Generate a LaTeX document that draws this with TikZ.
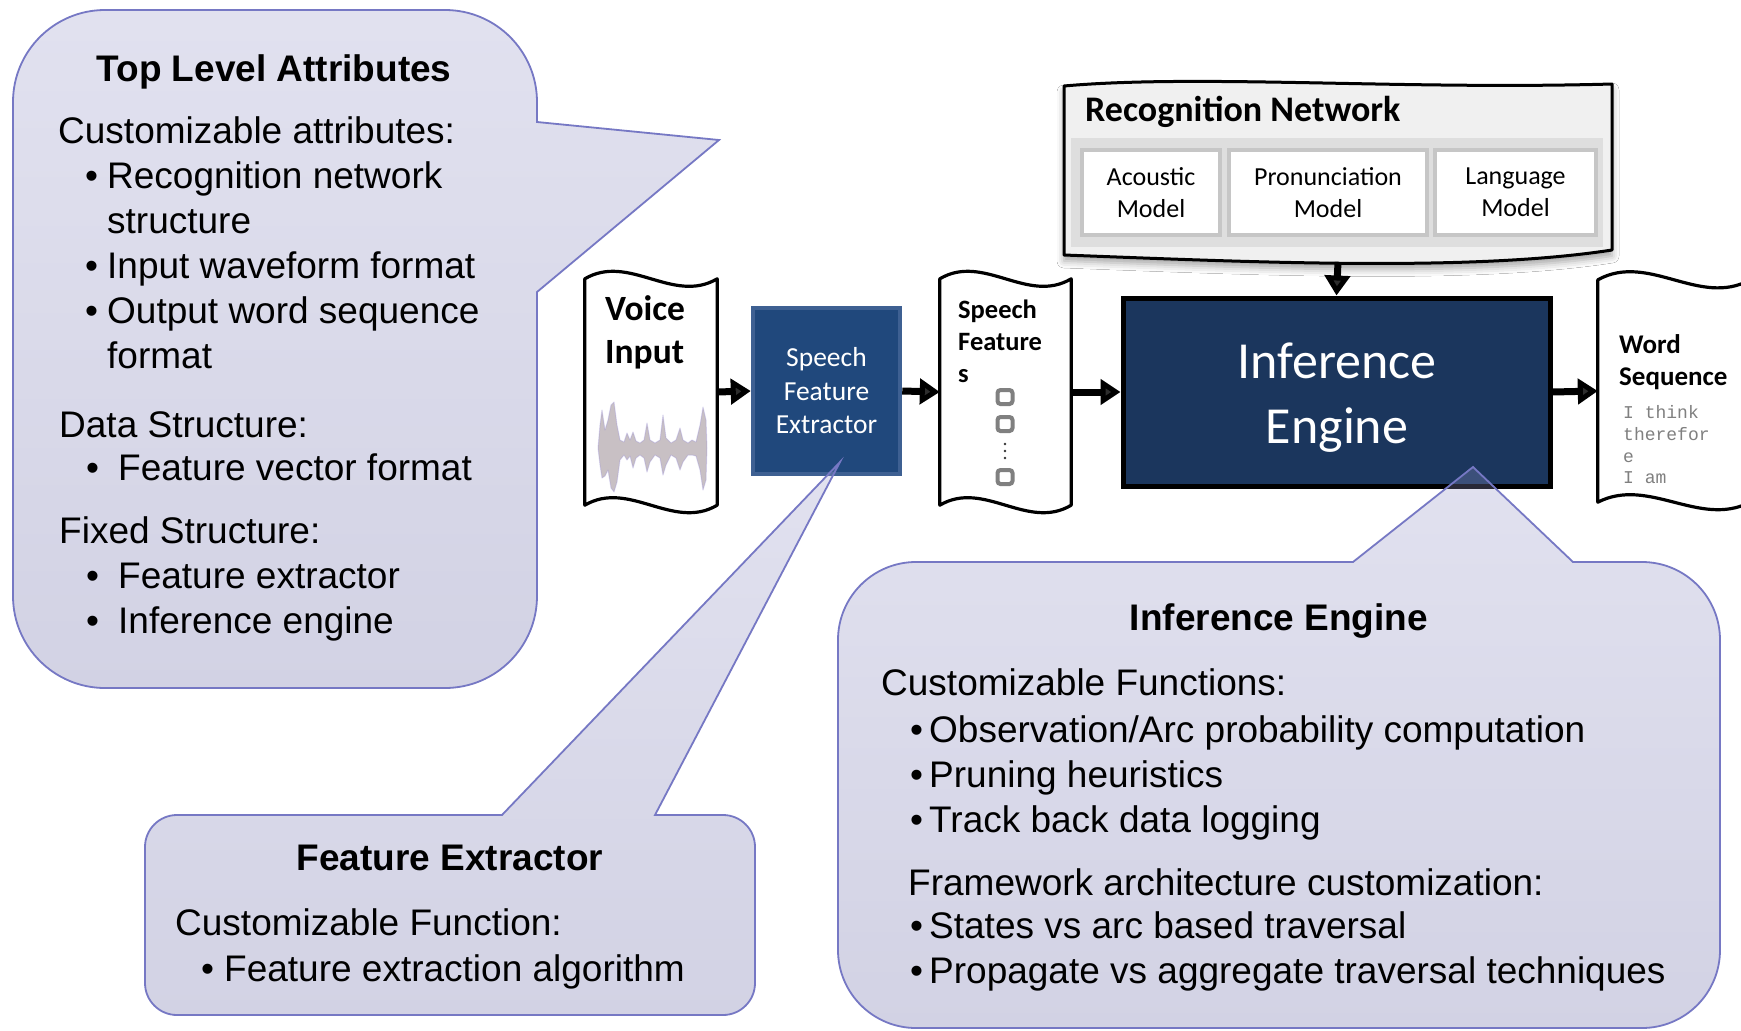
\documentclass[tikz,border=0pt]{standalone}
\usepackage{fontspec}
\setmainfont{Liberation Sans}
\newfontfamily\calibri{Carlito}
\newfontfamily\couriermono{Liberation Mono}
\usetikzlibrary{arrows.meta,calc,shadows.blur}

\definecolor{navy}{RGB}{27,54,93}
\definecolor{fexfill}{RGB}{32,72,124}
\definecolor{fexline}{RGB}{62,96,146}
\definecolor{callline}{RGB}{118,120,196}
\definecolor{calltop}{RGB}{150,150,200}
\definecolor{callbot}{RGB}{95,95,160}
\definecolor{netfill}{RGB}{240,240,240}
\definecolor{netpanel}{RGB}{222,222,222}
\definecolor{modline}{RGB}{198,198,198}
\definecolor{wave}{RGB}{200,192,196}
\definecolor{wavetint}{RGB}{150,140,220}
\definecolor{monogray}{RGB}{128,128,128}

\tikzset{
  frame/.style={rectangle, inner sep=0pt, draw=none},
  docline/.style={draw=black, line width=3.2pt, fill=white, line join=round},
  flow/.style={line width=7pt, -{Triangle[length=20pt,width=25pt]}},
  fexbox/.style={rectangle, inner sep=0pt, fill=fexfill, draw=fexline, line width=4.5pt,
    text=white, align=center, font=\calibri\fontsize{27.5}{33.5}\selectfont},
  iebox/.style={rectangle, inner sep=0pt, fill=navy, draw=black, line width=5pt},
  ietext/.style={inner sep=0pt, anchor=base, text=white, font=\calibri\fontsize{52}{65}\selectfont},
  modbox/.style={rectangle, inner sep=0pt, fill=white, draw=modline, line width=4pt,
    align=center, font=\calibri\fontsize{26}{32}\selectfont},
  doctitle/.style={inner sep=0pt, anchor=base west, font=\calibri\bfseries\fontsize{35.5}{43}\selectfont},
  docsmall/.style={inner sep=0pt, anchor=base west, font=\calibri\bfseries\fontsize{26.5}{32}\selectfont},
  monotext/.style={inner sep=0pt, anchor=base west, text=monogray, font=\couriermono\fontsize{18}{22}\selectfont},
  featsq/.style={rectangle, rounded corners=3pt, draw=gray, line width=4pt,
    minimum width=15pt, minimum height=14pt, inner sep=0pt},
  callout/.style={draw=callline, line width=1.8pt, top color=calltop, bottom color=callbot,
    fill opacity=0.28, draw opacity=1},
  body/.style={inner sep=0pt, anchor=base west, font=\fontsize{37}{44}\selectfont},
  head/.style={inner sep=0pt, anchor=base, font=\fontsize{37}{44}\selectfont\bfseries}
}

% wavy "document" outline around a frame node: #1 node, #2 top bend, #3 bottom bend
\newcommand\wavydoc[3]{%
  \path[docline] let \p1=(#1.north west), \p2=(#1.south east), \n1={(\x2-\x1)/3} in
    (\x1,\y1) .. controls ({\x1+\n1},{\y1+#2}) and ({\x2-\n1},{\y1-#2}) .. (\x2,\y1)
    -- (\x2,\y2) .. controls ({\x2-\n1},{\y2-#3}) and ({\x1+\n1},{\y2+#3}) .. (\x1,\y2) -- cycle;}

\begin{document}
\begin{tikzpicture}[x=1pt,y=-1pt]
\path[use as bounding box, fill=white] (0,0) rectangle (1741,1031);

% ---------------- recognition network ----------------
\coordinate (netport) at (1338,262);
\path[fill=netfill, draw=black, line width=3pt, line join=round,
      blur shadow={shadow xshift=0pt, shadow yshift=-6pt, shadow blur radius=7pt, shadow opacity=35}]
  (1064,86) .. controls (1200,74) and (1400,90) .. (1612,84)
  -- (1612,250) .. controls (1470,272) and (1250,262) .. (1064,255) -- cycle;
\fill[netpanel] (1071,138) rectangle (1603,247);
\node[inner sep=0pt, anchor=base west, font=\calibri\bfseries\fontsize{36}{43}\selectfont]
  (nettitle) at (1085,121) {Recognition Network};
\node[modbox, minimum width=138pt, minimum height=85pt] (am) at (1151,192.5) {Acoustic\\Model};
\node[modbox, minimum width=198pt, minimum height=85pt] (pm) at (1328,192.5) {Pronunciation\\Model};
\node[modbox, minimum width=161pt, minimum height=85pt] (lm) at (1515.5,192.5) {Language\\Model};

% ---------------- processing chain ----------------
\node[frame, minimum width=132pt, minimum height=226pt] (voice) at (651,392) {};
\node[frame, minimum width=131pt, minimum height=226pt] (sfeat) at (1005.5,392) {};
\node[frame, minimum width=152pt, minimum height=222pt] (word) at (1674,391) {};

\node[fexbox, minimum width=147pt, minimum height=166pt] (fex) at (826.5,391) {Speech\\Feature\\Extractor};
\node[iebox, minimum width=427pt, minimum height=188pt] (ie) at (1336.5,392) {};
\node[ietext] (iet1) at (1337,378) {Inference};
\node[ietext] (iet2) at (1337,443) {Engine};

\draw[flow] (voice.east) -- (fex.west);
\draw[flow] (fex.east) -- (sfeat.west);
\draw[flow] (sfeat.east) -- (ie.west);
\draw[flow] (ie.east) -- (word.west);
\draw[flow] (netport) -- (ie.north);

\wavydoc{voice}{26}{26}
\wavydoc{sfeat}{26}{26}
\wavydoc{word}{28}{26}

% voice input: title and waveform
\node[doctitle] (voicet1) at (605,320) {Voice};
\node[doctitle] (voicet2) at (605,363) {Input};
\path[fill=wave, draw=wavetint, draw opacity=0.3, line width=1pt, line join=round]
  (598,448) -- (600,425) -- (602,410) -- (605,430) -- (608,420) -- (611,405) -- (614,402)
  -- (617,425) -- (620,440) -- (624,442) -- (627,433) -- (630,440) -- (633,432) -- (636,441)
  -- (640,443) -- (644,440) -- (647,423) -- (650,440) -- (655,443) -- (660,440) -- (663,415)
  -- (666,438) -- (671,443) -- (676,440) -- (680,428) -- (683,440) -- (688,443) -- (692,440)
  -- (696,442) -- (700,425) -- (703,407) -- (706,420) -- (707,448)
  -- (706,480) -- (703,490) -- (700,470) -- (696,456) -- (692,455) -- (688,455) -- (683,462)
  -- (680,470) -- (676,458) -- (671,455) -- (666,465) -- (663,475) -- (660,458) -- (655,455)
  -- (650,462) -- (647,472) -- (644,458) -- (640,455) -- (636,458) -- (633,468) -- (630,456)
  -- (627,460) -- (624,455) -- (620,460) -- (617,482) -- (614,492) -- (611,488) -- (608,470)
  -- (605,476) -- (602,478) -- (600,465) -- cycle;

% speech features: title and feature vectors
\node[docsmall] (sft1) at (958,318) {Speech};
\node[docsmall] (sft2) at (958,350) {Feature};
\node[docsmall] (sft3) at (958,382) {s};
\node[featsq] (sq1) at (1005,397) {};
\node[featsq] (sq2) at (1005,424) {};
\node[featsq] (sq3) at (1005,477) {};
\fill[black!80] (1005,444) circle (1.4pt) (1005,451) circle (1.4pt) (1005,458) circle (1.4pt);

% word sequence: title and output text
\node[docsmall, font=\calibri\bfseries\fontsize{27}{32}\selectfont] (wst1) at (1619,353) {Word};
\node[docsmall, font=\calibri\bfseries\fontsize{27}{32}\selectfont] (wst2) at (1619,385) {Sequence};
\node[monotext] (wso1) at (1623,418) {I think};
\node[monotext] (wso2) at (1623,440) {therefor};
\node[monotext] (wso3) at (1623,462) {e};
\node[monotext] (wso4) at (1623,483) {I am};

% ---------------- callouts ----------------
% top level attributes
\path[callout]
  (13,102) .. controls (13,51.2) and (54.2,10) .. (105,10)
  -- (445,10) .. controls (495.8,10) and (537,51.2) .. (537,102)
  -- (537,122) -- (719,140) -- (537,292)
  -- (537,596) .. controls (537,646.8) and (495.8,688) .. (445,688)
  -- (105,688) .. controls (54.2,688) and (13,646.8) .. (13,596) -- cycle;
% feature extractor
\path[callout]
  (145,847) .. controls (145,829.3) and (159.3,815) .. (177,815)
  -- (502,815) -- (840,462) -- (655,815)
  -- (723,815) .. controls (740.7,815) and (755,829.3) .. (755,847)
  -- (755,983) .. controls (755,1000.7) and (740.7,1015) .. (723,1015)
  -- (177,1015) .. controls (159.3,1015) and (145,1000.7) .. (145,983) -- cycle;
% inference engine
\path[callout]
  (838,640) .. controls (838,596.9) and (872.9,562) .. (916,562)
  -- (1353,562) -- (1473,467) -- (1573,562)
  -- (1642,562) .. controls (1685.1,562) and (1720,596.9) .. (1720,640)
  -- (1720,950) .. controls (1720,993.1) and (1685.1,1028) .. (1642,1028)
  -- (916,1028) .. controls (872.9,1028) and (838,993.1) .. (838,950) -- cycle;

% top level attributes text
\node[head] (tlh) at (274,81) {Top Level Attributes};
\node[body] (tl1) at (58,143) {Customizable attributes:};
\node[body] (tl2b) at (85,188) {•};
\node[body] (tl2) at (107,188) {Recognition network};
\node[body] (tl3) at (107,233) {structure};
\node[body] (tl4b) at (85,278) {•};
\node[body] (tl4) at (107,278) {Input waveform format};
\node[body] (tl5b) at (85,323) {•};
\node[body] (tl5) at (107,323) {Output word sequence};
\node[body] (tl6) at (107,368) {format};
\node[body] (tl7) at (59,437) {Data Structure:};
\node[body] (tl8b) at (86,480) {•};
\node[body] (tl8) at (118,480) {Feature vector format};
\node[body] (tl9) at (59,543) {Fixed Structure:};
\node[body] (tl10b) at (86,588) {•};
\node[body] (tl10) at (118,588) {Feature extractor};
\node[body] (tl11b) at (86,633) {•};
\node[body] (tl11) at (118,633) {Inference engine};

% feature extractor text
\node[head] (feh) at (450,870) {Feature Extractor};
\node[body] (fe1) at (175,935) {Customizable Function:};
\node[body] (fe2b) at (201,981) {•};
\node[body] (fe2) at (224,981) {Feature extraction algorithm};

% inference engine text
\node[head] (ieh) at (1279,630) {Inference Engine};
\node[body] (ie1) at (881,695) {Customizable Functions:};
\node[body] (ie2b) at (910,742) {•};
\node[body] (ie2) at (929,742) {Observation/Arc probability computation};
\node[body] (ie3b) at (910,787) {•};
\node[body] (ie3) at (929,787) {Pruning heuristics};
\node[body] (ie4b) at (910,832) {•};
\node[body] (ie4) at (929,832) {Track back data logging};
\node[body] (ie5) at (908,895) {Framework architecture customization:};
\node[body] (ie6b) at (910,938) {•};
\node[body] (ie6) at (929,938) {States vs arc based traversal};
\node[body] (ie7b) at (910,983) {•};
\node[body] (ie7) at (929,983) {Propagate vs aggregate traversal techniques};
\end{tikzpicture}
\end{document}
